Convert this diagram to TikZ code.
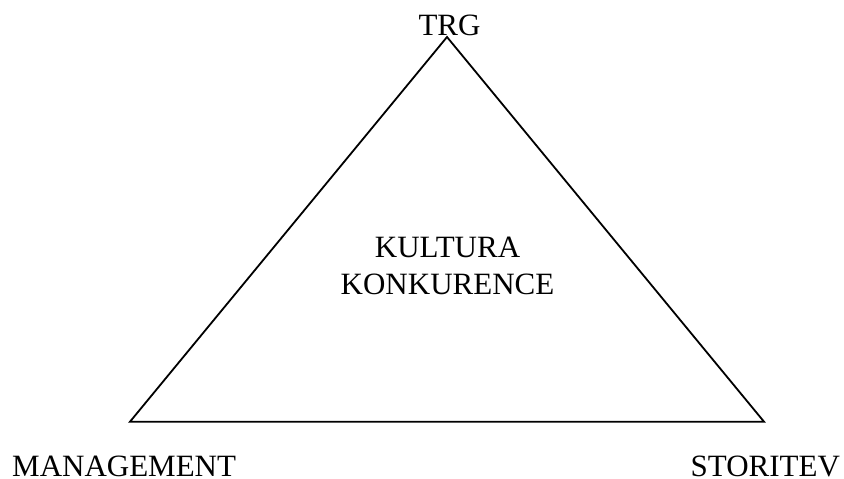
\documentclass[tikz,border=0pt]{standalone}
\usepackage{fontspec}
\setmainfont{Liberation Serif}
\tikzset{
  oznaka/.style={inner sep=0pt, anchor=base, font=\fontsize{31}{36}\selectfont},
  stranica/.style={line width=1.8pt, line join=miter}
}
\begin{document}
\begin{tikzpicture}[x=1pt, y=-1pt]
  \useasboundingbox (0,0) rectangle (844,479);

  % oglisca trikotnika
  \coordinate (vrh) at (447,37);
  \coordinate (levo) at (130,421.7);
  \coordinate (desno) at (764,421.7);
  \draw[stranica] (vrh) -- (levo) -- (desno) -- cycle;

  % napisi
  \node[oznaka] (trg) at (449.5,35) {TRG};
  \node[oznaka, anchor=base west] (management) at (12,476) {MANAGEMENT};
  \node[oznaka, anchor=base west] (storitev) at (690.5,476) {STORITEV};

  % sredina
  \node[oznaka] (kultura) at (447.5,257.7) {KULTURA};
  \node[oznaka] (konkurence) at (447.5,294) {KONKURENCE};
\end{tikzpicture}
\end{document}
